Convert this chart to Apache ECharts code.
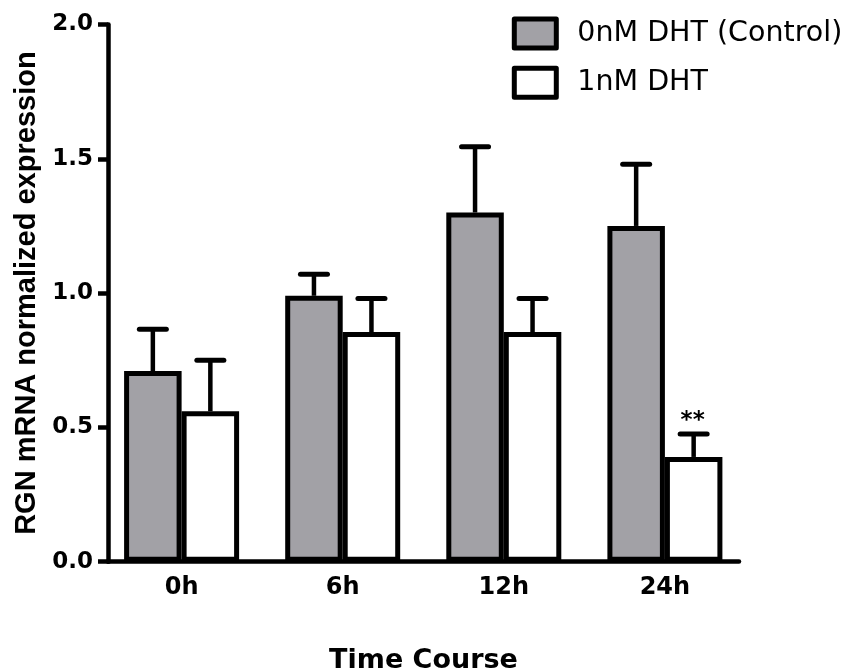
<!DOCTYPE html>
<html><head><meta charset="utf-8">
<script src="https://cdn.jsdelivr.net/npm/echarts@6/dist/echarts.min.js"></script>
<style>html,body{margin:0;padding:0;background:#fff}#c{width:850px;height:672px}</style>
</head><body><div id="c"></div>
<script>
// ---- data ----
const categories = ['0h', '6h', '12h', '24h'];
const seriesNames = ['0nM DHT (Control)', '1nM DHT'];
const controlMean = [0.71, 0.99, 1.30, 1.25];
const controlSEM  = [0.155, 0.08, 0.245, 0.23];
const dhtMean     = [0.56, 0.855, 0.855, 0.39];
const dhtSEM      = [0.19, 0.125, 0.125, 0.085];
const dhtMarks    = ['', '', '', '**'];
const yMin = 0, yMax = 2.0, yStep = 0.5;
const yTitle = 'RGN mRNA normalized expression';
const xTitle = 'Time Course';

// ---- style ----
const BAR_W = 57.5;
const CAP = 13.5;
const GRAY = '#a2a1a6';

function errRender(marks, side) {
  return function (params, api) {
    const i = api.value(0);
    const base = api.coord([i, api.value(1)]);
    const top = api.coord([i, api.value(1) + api.value(2)]);
    const x = base[0] + side * BAR_W / 2;
    const children = [
      { type: 'line', shape: { x1: x, y1: base[1], x2: x, y2: top[1] },
        style: { stroke: '#000', lineWidth: 4.5 } },
      { type: 'line', shape: { x1: x - CAP, y1: top[1], x2: x + CAP, y2: top[1] },
        style: { stroke: '#000', lineWidth: 5, lineCap: 'round' } }
    ];
    const m = marks ? marks[i] : '';
    if (m) {
      children.push({ type: 'text', style: { text: m, x: x - 1, y: top[1] - 2,
        align: 'center', verticalAlign: 'bottom',
        font: 'bold 23px "DejaVu Sans"', fill: '#000' } });
    }
    return { type: 'group', children: children };
  };
}

const chart = echarts.init(document.getElementById('c'), null, { renderer: 'canvas' });
chart.setOption({
  animation: false,
  backgroundColor: '#fff',
  legend: {
    orient: 'vertical', left: 511.8, top: 16.5, padding: 0,
    itemWidth: 42, itemHeight: 29, itemGap: 15.2,
    icon: 'rect',
    itemStyle: { borderWidth: 5, borderColor: '#000', borderJoin: 'round' },
    textStyle: { fontFamily: 'DejaVu Sans', fontSize: 28.5, color: '#000', lineHeight: 29,
      padding: [0, 0, 0, 16] },
    data: seriesNames
  },
  grid: [
    { left: 108, right: 111, top: 24.5, bottom: 110.3, outerBoundsMode: 'none', containLabel: false },
    { left: 101.05, right: 104.55, top: 24.5, bottom: 110.3, outerBoundsMode: 'none', containLabel: false }
  ],
  xAxis: [
    { gridIndex: 0, type: 'category', data: categories,
      axisLine: { show: true, lineStyle: { color: '#000', width: 4.5 } },
      axisTick: { show: false }, axisLabel: { show: false }, splitLine: { show: false },
      name: xTitle, nameLocation: 'middle', nameGap: 86,
      nameTextStyle: { fontFamily: 'DejaVu Sans', fontWeight: 'bold', fontSize: 27, color: '#000' } },
    { gridIndex: 1, type: 'category', data: categories,
      axisLine: { show: false }, axisTick: { show: false }, splitLine: { show: false },
      axisLabel: { show: true, margin: 14, fontFamily: 'DejaVu Sans', fontWeight: 'bold',
        fontSize: 24, color: '#000' } }
  ],
  yAxis: [
    { gridIndex: 0, type: 'value', min: yMin, max: yMax, interval: yStep,
      axisLine: { show: true, lineStyle: { color: '#000', width: 4.5 } },
      axisTick: { show: true, length: 10, lineStyle: { color: '#000', width: 4.5 } },
      splitLine: { show: false },
      axisLabel: { margin: 15, fontFamily: 'DejaVu Sans', fontWeight: 'bold', fontSize: 23,
        color: '#000', formatter: v => v.toFixed(1) },
      name: yTitle, nameLocation: 'middle', nameRotate: 90, nameGap: 66,
      nameTextStyle: { fontFamily: 'Liberation Sans', fontWeight: 'bold', fontSize: 29, color: '#000' } },
    { gridIndex: 1, type: 'value', min: yMin, max: yMax, interval: yStep, show: false }
  ],
  series: [
    { name: seriesNames[0], type: 'bar', xAxisIndex: 1, yAxisIndex: 1,
      barWidth: BAR_W, barGap: '0%', data: controlMean,
      itemStyle: { color: GRAY, borderColor: '#000', borderWidth: 5 } },
    { name: seriesNames[1], type: 'bar', xAxisIndex: 1, yAxisIndex: 1,
      barWidth: BAR_W, barGap: '0%', data: dhtMean,
      itemStyle: { color: '#fff', borderColor: '#000', borderWidth: 5 } },
    { type: 'custom', xAxisIndex: 1, yAxisIndex: 1, z: 3,
      renderItem: errRender(null, -1),
      encode: { x: 0, y: 1 },
      data: controlMean.map((v, i) => [i, v, controlSEM[i]]) },
    { type: 'custom', xAxisIndex: 1, yAxisIndex: 1, z: 3,
      renderItem: errRender(dhtMarks, 1),
      encode: { x: 0, y: 1 },
      data: dhtMean.map((v, i) => [i, v, dhtSEM[i]]) }
  ]
});
</script></body></html>
